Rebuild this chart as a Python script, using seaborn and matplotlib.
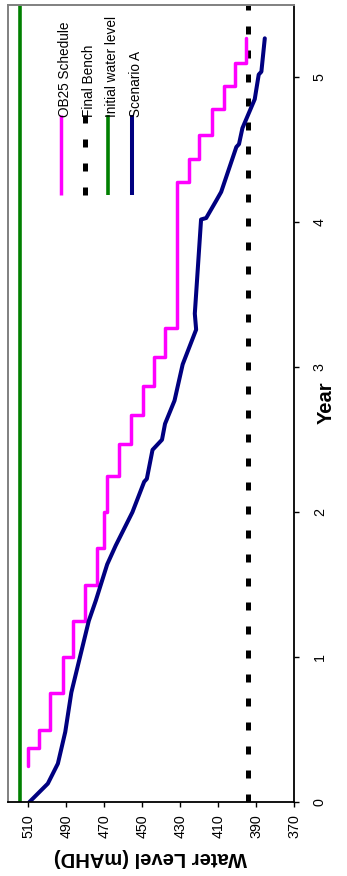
import numpy as np
import matplotlib
matplotlib.use("Agg")
import matplotlib.pyplot as plt
import seaborn as sns
from matplotlib.lines import Line2D

# ---------------- DATA ----------------

# OB25 schedule: level held from each start year until the next one
sched_year = [0.25, 0.375, 0.50, 0.75, 1.00, 1.25, 1.50, 1.75, 2.00, 2.25, 2.47,
              2.67, 2.87, 3.07, 3.27, 4.28, 4.44, 4.60, 4.78, 4.94, 5.10, 5.27]
sched_level = [510.5, 504.7, 498.5, 492.0, 486.7, 480.2, 474.0, 470.2, 468.5, 462.3, 455.8,
               449.5, 444.0, 437.9, 431.7, 425.2, 419.9, 413.3, 407.0, 401.3, 395.5, 395.5]

# Scenario A
scen_year = [0.00, 0.127, 0.265, 0.484, 0.756, 1.25, 1.39, 1.64, 1.77, 2.00, 2.21, 2.23,
             2.43, 2.50, 2.61, 2.77, 3.02, 3.26, 3.37, 4.02, 4.03, 4.15, 4.21, 4.52,
             4.54, 4.65, 4.85, 5.02, 5.04, 5.27]
scen_level = [509.5, 499.8, 494.5, 490.6, 487.4, 478.2, 474.5, 468.5, 464.0, 455.2, 449.0, 447.6,
              444.6, 439.6, 438.0, 433.0, 428.7, 421.6, 422.3, 419.0, 416.3, 411.0, 408.4, 400.4,
              399.0, 397.2, 390.7, 388.6, 387.2, 385.4]

initial_level = 514.5
final_bench = 394.3

level_ticks = [510, 490, 470, 450, 430, 410, 390, 370]
year_ticks = [0, 1, 2, 3, 4, 5]

legend_names = ["OB25 Schedule", "Final Bench", "Initial water level", "Scenario A"]

# ---------------- STYLE ----------------

sns.set_style("white")
plt.rcParams['font.family'] = ['Liberation Sans', 'DejaVu Sans']
plt.rcParams['text.color'] = 'black'
plt.rcParams['axes.labelcolor'] = 'black'
plt.rcParams['xtick.color'] = 'black'
plt.rcParams['ytick.color'] = 'black'

MAGENTA = "#FF00FF"
NAVY = "#000080"
GREEN = "#008000"

W, H = 347, 876
fig = plt.figure(figsize=(W / 100, H / 100), dpi=100)

# plot area in pixels: left 8, right 294, top 5, bottom 802
L, R, T, B = 8, 294, 5, 802
ax = fig.add_axes([L / W, 1 - B / H, (R - L) / W, (B - T) / H])

def px_to_ax(x, y):
    return (x - L) / (R - L), (B - y) / (B - T)

# ---------------- LINES ----------------

ax.axvline(initial_level, color=GREEN, lw=2.6)
ax.axvline(final_bench, color="black", lw=3.6, linestyle=(0, (1.6, 3.2)))

sns.lineplot(x=sched_level, y=sched_year, orient="y", sort=False, estimator=None,
             drawstyle="steps-pre", color=MAGENTA, lw=2.5, ax=ax)
sns.lineplot(x=scen_level, y=scen_year, orient="y", sort=False, estimator=None,
             color=NAVY, lw=2.9, ax=ax)

# ---------------- AXES ----------------

ax.set_xlim(520.8, 370)
ax.set_ylim(0, 5.5)
ax.set_xticks(level_ticks)
ax.set_yticks(year_ticks)
ax.yaxis.tick_right()

ax.tick_params(axis="x", direction="out", length=3.6, width=1, color="black",
               labelsize=10.3, pad=5.0, bottom=True, top=False)
ax.tick_params(axis="y", direction="out", length=3.6, width=1, color="black",
               labelsize=10.3, pad=10, right=True, left=False)
for lab in ax.get_xticklabels():
    lab.set_rotation(90)
    lab.set_ha("center")
    lab.set_va("top")
for lab in ax.get_yticklabels():
    lab.set_rotation(90)
    lab.set_va("center")

for side in ["left", "top"]:
    ax.spines[side].set_color("#808080")
    ax.spines[side].set_linewidth(1.4)
for side in ["right", "bottom"]:
    ax.spines[side].set_color("black")
    ax.spines[side].set_linewidth(1.3)

ax.set_xlabel("Water Level (mAHD)", fontsize=14.5, fontweight="bold")
ax.set_ylabel("Year", fontsize=14.5, fontweight="bold")
ax.xaxis.set_label_coords(*px_to_ax(150, 857))
ax.yaxis.set_label_coords(*px_to_ax(326.5, 403))
for lab, rot in [(ax.xaxis.label, 180), (ax.yaxis.label, 90)]:
    lab.set_rotation(rot)
    lab.set_rotation_mode("default")
    lab.set_ha("center")
    lab.set_va("center")

# ---------------- LEGEND (rotated, drawn by hand) ----------------

legend_styles = [
    dict(color=MAGENTA, lw=2.5, linestyle="-"),
    dict(color="black", lw=3.6, linestyle=(0, (1.6, 3.2))),
    dict(color=GREEN, lw=2.6, linestyle="-"),
    dict(color=NAVY, lw=2.9, linestyle="-"),
]
legend_x = [60.7, 85.0, 108.3, 131.7]
for name, style, lx in zip(legend_names, legend_styles, legend_x):
    x0, y0 = px_to_ax(lx, 195)
    x1, y1 = px_to_ax(lx, 115)
    ax.add_line(Line2D([x0, x1], [y0, y1], transform=ax.transAxes,
                       solid_capstyle="butt", **style))
    tx, ty = px_to_ax(lx - 3, 117)
    ax.text(tx, ty, name, transform=ax.transAxes, rotation=90,
            ha="left", va="bottom", fontsize=9.8, color="black")

fig.savefig("out.png", dpi=100)
